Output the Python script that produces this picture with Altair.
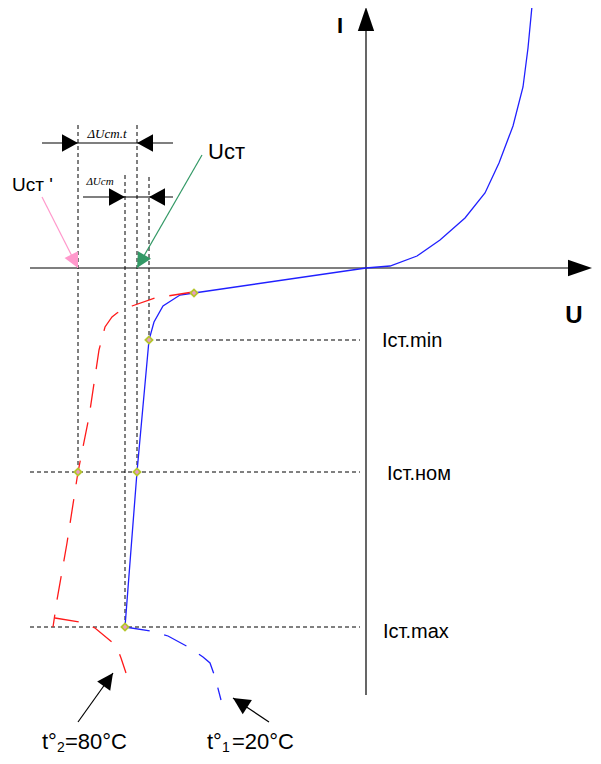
import altair as alt
import pandas as pd

# ---- data in diagram units (U to the right, I upward, origin at axis crossing) ----
fwd_U = [0, 24, 51, 74, 99, 119, 133, 147, 157, 162, 166]
fwd_I = [0, 2, 12, 28, 50, 75, 105, 142, 181, 220, 262]

rev20_U = [0, -172, -186, -203, -212, -217, -229, -241]
rev20_I = [0, -25, -27, -38, -54, -72, -204, -359]

tail20_U = [-241, -215, -198, -176, -163, -156, -151, -145]
tail20_I = [-359, -363, -368, -380, -389, -395, -409, -432]

rev80_U = [-173, -211, -234, -249, -254, -261, -267, -277, -288, -299, -309, -313]
rev80_I = [-24, -30, -38, -45, -49, -59, -82, -149, -204, -275, -332, -359]

tail80_U = [-311, -286, -271, -253, -248, -245, -240]
tail80_I = [-350, -354, -360, -375, -382, -390, -405]

dot_U = [-172, -217, -229, -288, -241]
dot_I = [-25, -72, -204, -204, -359]

# dashed guide lines (U, I, U2, I2)
guide_U = [-217, -336, -336, -288, -229, -241, -217]
guide_I = [-72, -204, -359, 143, 143, 93, 91]
guide_U2 = [-6, -6, -6, -288, -229, -241, -217]
guide_I2 = [-72, -204, -359, -204, -204, -359, -72]

# solid segments: axes, dimension lines, pointer arrows
seg_U = [-336, 0, -324, -283, -164, -324, -288, -97]
seg_I = [0, -427, 125, 71, 113, 71, -454, -454]
seg_U2 = [212, 0, -193, -193, -229, -288, -253, -133]
seg_I2 = [0, 240, 125, 71, 0, 0, -405, -430]
seg_col = ["black", "black", "black", "black", "#339966", "#ff99cc", "black", "black"]

# arrow heads (tip position, direction angle in degrees clockwise from up)
axhead_U = [0, 226]
axhead_I = [261, 0]
axhead_ang = [0, 90]

dimhead_U = [-288, -229, -241, -217]
dimhead_I = [125, 125, 71, 71]
dimhead_ang = [90, 270, 90, 270]

ptrhead_U = [-229, -288, -253, -133]
ptrhead_I = [0, 0, -405, -430]
ptrhead_ang = [209.9, 153.4, 35.5, 302.6]
ptrhead_len = [15, 15, 16, 17]
ptrhead_col = ["#339966", "#ff99cc", "black", "black"]

X_DOM = [-358, 227]
Y_DOM = [-488, 260]

xs = alt.Scale(domain=X_DOM, nice=False, zero=False)
ys = alt.Scale(domain=Y_DOM, nice=False, zero=False)


def line_layer(us, is_, color, dash=None, width=1.3):
    df = pd.DataFrame({"U": us, "I": is_, "k": list(range(len(us)))})
    kw = dict(color=color, strokeWidth=width, clip=False)
    if dash:
        kw["strokeDash"] = dash
    return alt.Chart(df).mark_line(**kw).encode(
        x=alt.X("U:Q", scale=xs, axis=None),
        y=alt.Y("I:Q", scale=ys, axis=None),
        order="k:Q",
    )


def head_layer(us, is_, angs, a, sizes, colors):
    df = pd.DataFrame({"U": us, "I": is_, "ang": angs, "sz": sizes, "col": colors})
    path = f"M0,0L{a},2L-{a},2Z"
    return alt.Chart(df).mark_point(shape=path, filled=True, opacity=1, strokeWidth=0).encode(
        x=alt.X("U:Q", scale=xs, axis=None),
        y=alt.Y("I:Q", scale=ys, axis=None),
        angle=alt.Angle("ang:Q", scale=None),
        size=alt.Size("sz:Q", scale=None),
        color=alt.Color("col:N", scale=None),
    )


def text_layer(u, i, txt, size, align="left", baseline="middle", font="Liberation Sans",
               weight="normal", style="normal"):
    df = pd.DataFrame({"U": [u], "I": [i], "t": [txt]})
    return alt.Chart(df).mark_text(align=align, baseline=baseline, font=font, fontSize=size,
                                   fontWeight=weight, fontStyle=style, color="black").encode(
        x=alt.X("U:Q", scale=xs, axis=None),
        y=alt.Y("I:Q", scale=ys, axis=None),
        text="t:N",
    )


guides = alt.Chart(pd.DataFrame({"U": guide_U, "I": guide_I, "U2": guide_U2, "I2": guide_I2})).mark_rule(
    color="black", strokeWidth=1, strokeDash=[4, 3]
).encode(
    x=alt.X("U:Q", scale=xs, axis=None), y=alt.Y("I:Q", scale=ys, axis=None),
    x2="U2:Q", y2="I2:Q",
)

segs = alt.Chart(pd.DataFrame({"U": seg_U, "I": seg_I, "U2": seg_U2, "I2": seg_I2, "col": seg_col})).mark_rule(
    strokeWidth=1.2
).encode(
    x=alt.X("U:Q", scale=xs, axis=None), y=alt.Y("I:Q", scale=ys, axis=None),
    x2="U2:Q", y2="I2:Q", color=alt.Color("col:N", scale=None),
)

dots = alt.Chart(pd.DataFrame({"U": dot_U, "I": dot_I})).mark_point(
    shape="diamond", size=50, filled=True, fill="#e99ac6", stroke="#b5c62e", strokeWidth=1.8, opacity=1
).encode(x=alt.X("U:Q", scale=xs, axis=None), y=alt.Y("I:Q", scale=ys, axis=None))

layers = [
    guides,
    segs,
    line_layer(fwd_U, fwd_I, "#2020ff"),
    line_layer(rev20_U, rev20_I, "#2020ff"),
    line_layer(tail20_U, tail20_I, "#2020ff", dash=[25, 15]),
    line_layer(rev80_U, rev80_I, "#ff1a1a", dash=[24, 15]),
    line_layer(tail80_U, tail80_I, "#ff1a1a", dash=[24, 15]),
    head_layer(axhead_U, axhead_I, axhead_ang, 0.68, [576, 576], ["black", "black"]),
    head_layer(dimhead_U, dimhead_I, dimhead_ang, 1.1, [256] * 4, ["black"] * 4),
    head_layer(ptrhead_U, ptrhead_I, ptrhead_ang, 1.0, [l * l for l in ptrhead_len], ptrhead_col),
    dots,
    text_layer(-26, 242, "I", 22, align="center", weight="bold"),
    text_layer(208, -48, "U", 24, align="center", weight="bold"),
    text_layer(-158, 116, "Uст", 22),
    text_layer(-354, 83, "Uст '", 19),
    text_layer(16, -73, "Iст.min", 20),
    text_layer(21, -206, "Iст.ном", 20),
    text_layer(17, -364, "Iст.max", 20),
    text_layer(-259, 134, "ΔUcm.t", 13, align="center", font="Liberation Serif", style="italic"),
    text_layer(-266, 86, "ΔUcm", 11, align="center", font="Liberation Serif", style="italic"),
    text_layer(-324, -481, "t°", 22, baseline="alphabetic"),
    text_layer(-309, -484, "2", 14, baseline="alphabetic"),
    text_layer(-301, -481, "=80°C", 22, baseline="alphabetic"),
    text_layer(-159, -481, "t°", 22, baseline="alphabetic"),
    text_layer(-144, -484, "1", 14, baseline="alphabetic"),
    text_layer(-134, -481, "=20°C", 22, baseline="alphabetic"),
]

chart = alt.layer(*layers).properties(
    width=585, height=748, padding=0, autosize=alt.AutoSizeParams(type="none"),
    background="white",
).configure_view(stroke=None)

chart.save("out.html", embed_options={"renderer": "svg", "actions": False})
